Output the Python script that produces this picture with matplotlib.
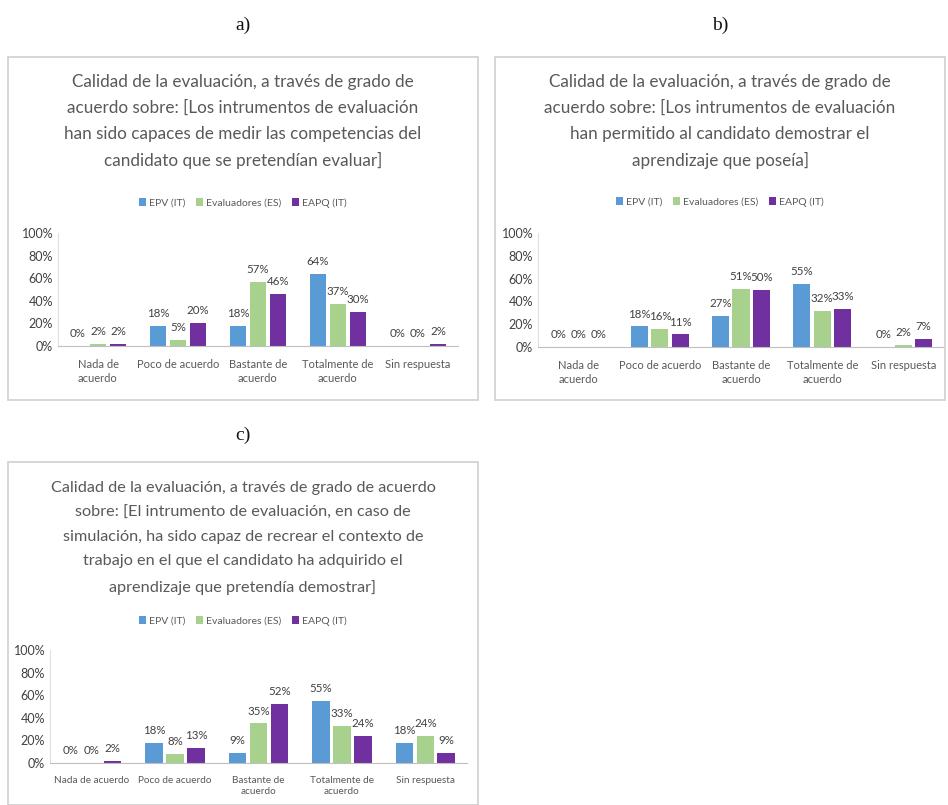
import matplotlib.pyplot as plt
import numpy as np
from matplotlib.patches import Rectangle

W, H = 948, 805

series = ["EPV (IT)", "Evaluadores (ES)", "EAPQ (IT)"]
colors = ["#5B9BD5", "#A9D18E", "#7030A0"]

cats_ab = ["Nada de\nacuerdo", "Poco de acuerdo", "Bastante de\nacuerdo",
           "Totalmente de\nacuerdo", "Sin respuesta"]
cats_c = ["Nada de acuerdo", "Poco de acuerdo", "Bastante de\nacuerdo",
          "Totalmente de\nacuerdo", "Sin respuesta"]

epv_a = [0, 18, 18, 64, 0]
es_a = [2, 5, 57, 37, 0]
eapq_a = [2, 20, 46, 30, 2]

epv_b = [0, 18, 27, 55, 0]
es_b = [0, 16, 51, 32, 2]
eapq_b = [0, 11, 50, 33, 7]

epv_c = [0, 18, 9, 55, 18]
es_c = [0, 8, 35, 33, 24]
eapq_c = [2, 13, 52, 24, 9]

title_a = ("Calidad de la evaluación, a través de grado de\n"
           "acuerdo sobre: [Los intrumentos de evaluación\n"
           "han sido capaces de medir las competencias del\n"
           "candidato que se pretendían evaluar]")
title_b = ("Calidad de la evaluación, a través de grado de\n"
           "acuerdo sobre: [Los intrumentos de evaluación\n"
           "han permitido al candidato demostrar el\n"
           "aprendizaje que poseía]")
title_c = ("Calidad de la evaluación, a través de grado de acuerdo\n"
           "sobre: [El intrumento de evaluación, en caso de\n"
           "simulación, ha sido capaz de recrear el contexto de\n"
           "trabajo en el que el candidato ha adquirido el\n"
           "aprendizaje que pretendía demostrar]")

plt.rcParams['font.family'] = ['Lato', 'DejaVu Sans']

fig = plt.figure(figsize=(W / 100, H / 100), dpi=100)


def fx(x):
    return x / W


def fy(y):
    return 1 - y / H


def panel(box, axbox, title, title_y, tsize, tspacing, legend_y, cats, xsize,
          data, label):
    x0, y0, x1, y1 = box
    fig.patches.append(Rectangle((fx(x0), fy(y1)), fx(x1 - x0), (y1 - y0) / H,
                                 transform=fig.transFigure, fill=False,
                                 edgecolor="#d0d0d0", lw=1.2))
    cx = (x0 + x1) / 2
    fig.text(fx(cx), fy(label[1]), label[0], ha="center", va="center",
             fontsize=14, family="Liberation Serif", color="#111111")
    fig.text(fx(cx), fy(title_y), title, ha="center", va="top",
             fontsize=tsize, color="#595959", linespacing=tspacing)

    l, r, b, t = axbox
    ax = fig.add_axes([fx(l), fy(b), fx(r - l), (b - t) / H])
    x = np.arange(len(cats))
    w = 0.21
    for i, (vals, col, name) in enumerate(zip(data, colors, series)):
        bars = ax.bar(x + (i - 1) * 0.25, vals, w, color=col, label=name)
        for bar, v in zip(bars, vals):
            ax.annotate(f"{v}%", (bar.get_x() + bar.get_width() / 2, v),
                        xytext=(0, 5), textcoords="offset points",
                        ha="center", va="bottom", fontsize=8.3, color="#404040")
    ax.set_ylim(0, 100)
    ax.set_xlim(-0.5, len(cats) - 0.5)
    ax.set_yticks(range(0, 101, 20))
    ax.set_yticklabels([f"{v}%" for v in range(0, 101, 20)], fontsize=9,
                       color="#404040")
    ax.set_xticks(x)
    ax.set_xticklabels(cats, fontsize=xsize, color="#595959", linespacing=1.4)
    ax.tick_params(axis="both", length=0)
    ax.tick_params(axis="x", pad=9)
    for s in ["top", "right"]:
        ax.spines[s].set_visible(False)
    ax.spines["left"].set_color("#e0e0e0")
    ax.spines["bottom"].set_color("#bfbfbf")
    ax.patch.set_alpha(0)
    fig.legend(*ax.get_legend_handles_labels(), loc="center",
               bbox_to_anchor=(fx(cx), fy(legend_y)), ncol=3, frameon=False,
               fontsize=7.5, handlelength=0.7, handleheight=0.7,
               handletextpad=0.3, columnspacing=1.0, labelcolor="#595959")
    return ax


panel((8, 57, 478, 400), (58, 458, 346, 233), title_a, 74, 12.3, 1.75, 203,
      cats_ab, 8, [epv_a, es_a, eapq_a], ("a)", 25))
panel((495, 57, 945, 400), (538, 944, 347, 233), title_b, 74, 12.3, 1.75, 202,
      cats_ab, 8, [epv_b, es_b, eapq_b], ("b)", 25))
panel((8, 462, 478, 805), (50, 467, 763, 650), title_c, 481, 11.7, 1.95, 621,
      cats_c, 7.2, [epv_c, es_c, eapq_c], ("c)", 435))

fig.savefig("out.png", dpi=100)
